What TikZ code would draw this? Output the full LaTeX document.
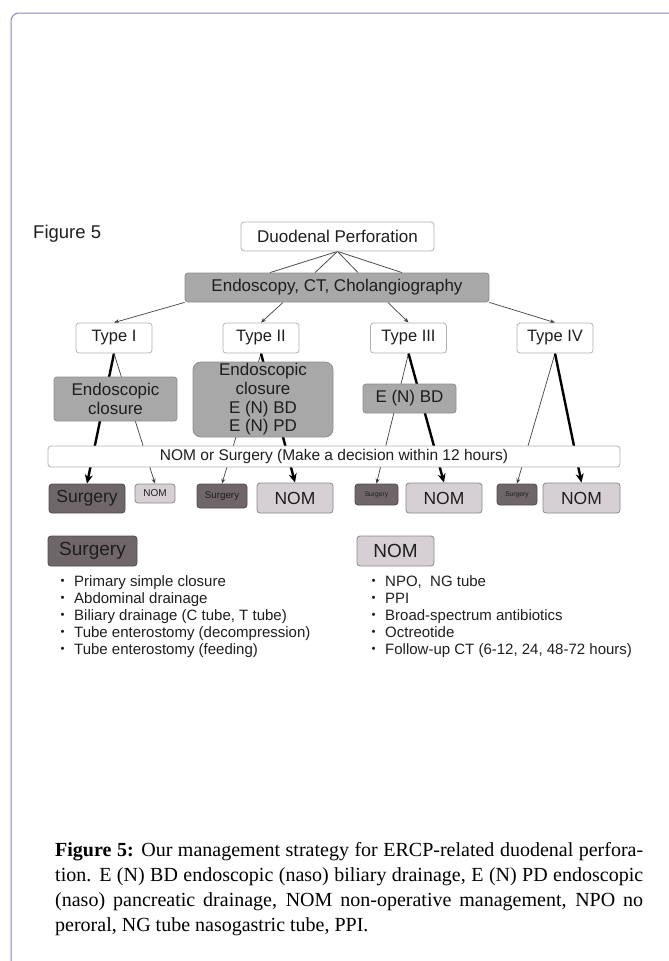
\documentclass[tikz,border=0pt]{standalone}
\usepackage{fontspec}
\setmainfont{Liberation Sans}
\newfontfamily\capfont{Liberation Serif}
\newfontfamily\cjk{Noto Sans CJK JP}
\usepackage{xcolor}
\usepackage{tikz}
\usetikzlibrary{positioning}
\usetikzlibrary{arrows.meta}
\usetikzlibrary{backgrounds}
\definecolor{framecol}{HTML}{8A86B8}
\definecolor{boxline}{HTML}{B2B2B2}
\definecolor{midgray}{HTML}{A8A8A8}
\definecolor{surgcol}{HTML}{6E6668}
\definecolor{nomcol}{HTML}{D6D0D4}
\definecolor{inkcol}{HTML}{1E1E1E}
\newcommand\bul{\makebox[19pt][l]{\cjk ・}}

\tikzset{
box/.style={rounded corners=3pt,inner sep=0pt,line width=0.8pt,text=inkcol,align=center},
wbox/.style={box,draw=boxline,fill=white},
gbox/.style={box,draw=black!45,fill=midgray},
sbox/.style={box,draw=surgcol!75!black,fill=surgcol},
nbox/.style={box,draw=nomcol!65!black,fill=nomcol},
fork/.style={draw=black!70,line width=0.8pt},
weak/.style={draw=black!75,line width=0.7pt,-{Stealth[length=5pt,width=4pt]}},
strong/.style={draw=black,line width=2.4pt,-{Stealth[length=9pt,width=8pt]}},
}

\begin{document}
\begin{tikzpicture}[x=1pt,y=-1pt]
\useasboundingbox (0,0) rectangle (669,961);
\draw[framecol,line width=1pt,rounded corners=8pt] (669,13) -- (11,13) -- (11,961);

\node[anchor=west,inner sep=0pt,font=\fontsize{18.5}{20}\selectfont,text=inkcol] (figlab) at (33,234) {Figure 5};

%----------top
\node[wbox,minimum width=193pt,minimum height=29pt,font=\fontsize{17}{19}\selectfont] (duo) at (337.5,236.5) {Duodenal Perforation};
\node[gbox,minimum width=304pt,minimum height=29pt,font=\fontsize{17}{19}\selectfont] (endo) at (337,287.5) {Endoscopy, CT, Cholangiography};

%----------types
\foreach \n/\x/\lab in {1/114/I,2/261/II,3/408.5/III,4/555/IV}{%
\node[wbox,minimum width=76pt,minimum height=30pt,font=\fontsize{16.5}{18}\selectfont] (t\n) at (\x,338) {Type \lab};
}

%----------treatment
\node[gbox,minimum width=123pt,minimum height=44pt,font=\fontsize{17}{18.7}\selectfont] (c1) at (115.5,399) {Endoscopic\\closure};
\node[gbox,rounded corners=8pt,minimum width=140pt,minimum height=75pt,font=\fontsize{17}{18.7}\selectfont] (c2) at (263,399.5) {Endoscopic\\closure\\E (N) BD\\E (N) PD};
\node[gbox,minimum width=93pt,minimum height=29pt,font=\fontsize{17}{18.7}\selectfont] (c3) at (409.5,398.5) {E (N) BD};

%bar:
\node[wbox,minimum width=572pt,minimum height=21pt,font=\fontsize{15.5}{17}\selectfont] (bar) at (334,456.5) {NOM or Surgery (Make a decision within 12 hours)};

%----------results
\node[sbox,minimum width=76pt,minimum height=29pt,font=\fontsize{17.5}{19}\selectfont] (s1) at (87,498.5) {Surgery};
\node[nbox,minimum width=40pt,minimum height=19pt,font=\fontsize{10}{11}\selectfont] (n1) at (155,493.5) {NOM};
\node[sbox,minimum width=50pt,minimum height=24pt,font=\fontsize{9.8}{11}\selectfont] (s2) at (222,496) {Surgery};
\node[nbox,minimum width=76pt,minimum height=30pt,font=\fontsize{17.5}{19}\selectfont] (n2) at (295,498) {NOM};
\node[sbox,minimum width=43pt,minimum height=21pt,font=\fontsize{6.7}{8}\selectfont] (s3) at (376.5,494.5) {Surgery};
\node[nbox,minimum width=76pt,minimum height=30pt,font=\fontsize{17.5}{19}\selectfont] (n3) at (444,498) {NOM};
\node[sbox,minimum width=40pt,minimum height=21pt,font=\fontsize{6.7}{8}\selectfont] (s4) at (517,494.5) {Surgery};
\node[nbox,minimum width=77pt,minimum height=30pt,font=\fontsize{17.5}{19}\selectfont] (n4) at (581.5,498) {NOM};

%lines:
\begin{scope}[on background layer]
\foreach \k in {-67,-22,21,65}{%
\draw[fork] (duo.south) -- ([xshift=\k pt]endo.north);
}
\draw[weak] (endo.south west) -- (t1.north);
\draw[weak] ([xshift=-54pt]endo.south) -- (t2.north);
\draw[weak] ([xshift=51pt]endo.south) -- (t3.north);
\draw[weak] (endo.south east) -- (t4.north);
\draw[strong] (t1.south) -- (s1.north);
\draw[weak] (t1.south) -- (n1.north);
\draw[weak] (t2.south) -- (s2.north);
\draw[strong] (t2.south) -- (n2.north);
\draw[weak] (t3.south) -- (s3.north);
\draw[strong] (t3.south) -- (n3.north);
\draw[weak] (t4.south) -- (s4.north);
\draw[strong] (t4.south) -- (n4.north);
\end{scope}

%----------lists
\node[sbox,minimum width=89pt,minimum height=30pt,font=\fontsize{19}{21}\selectfont] (hs) at (92.5,551) {Surgery};
\node[nbox,minimum width=77pt,minimum height=30pt,font=\fontsize{19}{21}\selectfont] (hn) at (395.5,551) {NOM};

\node[anchor=base west,inner sep=0pt,font=\fontsize{15}{17}\selectfont,text=inkcol] (slist) at (55,586.5) {%
\begin{tabular}[t]{@{}l@{}}
\bul Primary simple closure\\
\bul Abdominal drainage\\
\bul Biliary drainage (C tube, T tube)\\
\bul Tube enterostomy (decompression)\\
\bul Tube enterostomy (feeding)
\end{tabular}};
\node[anchor=base west,inner sep=0pt,font=\fontsize{15}{17}\selectfont,text=inkcol] (nlist) at (366,586.5) {%
\begin{tabular}[t]{@{}l@{}}
\bul NPO,\ \ NG tube\\
\bul PPI\\
\bul Broad-spectrum antibiotics\\
\bul Octreotide\\
\bul Follow-up CT (6-12, 24, 48-72 hours)
\end{tabular}};

%caption
\node[anchor=base west,inner sep=0pt,font=\capfont\fontsize{20}{25}\selectfont] (cap) at (55,856) {%
\begin{tabular}[t]{@{}l@{}}
\makebox[588pt][s]{\textbf{Figure 5:} Our management strategy for ERCP-related duodenal perfora-}\\
\makebox[588pt][s]{tion. E (N) BD endoscopic (naso) biliary drainage, E (N) PD endoscopic}\\
\makebox[588pt][s]{(naso) pancreatic drainage, NOM non-operative management, NPO no}\\
peroral, NG tube nasogastric tube, PPI.
\end{tabular}};

\end{tikzpicture}
\end{document}
